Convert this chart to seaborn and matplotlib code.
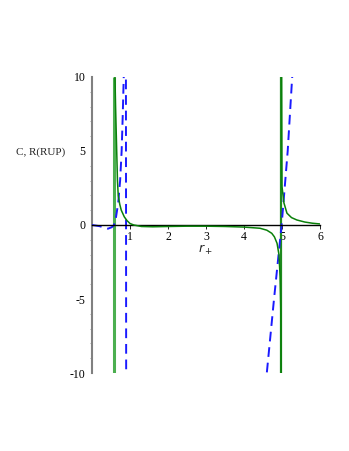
import matplotlib
matplotlib.use("Agg")
import matplotlib.pyplot as plt
import seaborn as sns
from matplotlib.ticker import MultipleLocator

# heat capacity C (green)
c_x = [0.6, 0.62, 0.65, 0.67, 0.69, 0.73, 0.77, 0.85, 0.92, 1.0, 1.1, 1.3, 1.6, 2.0,
       2.5, 3.0, 3.5, 4.0, 4.42, 4.6, 4.73, 4.8, 4.87, 4.92, 4.95, 4.97, 4.98]
c_y = [10.5, 8.0, 5.0, 3.0, 2.0, 1.4, 1.0, 0.55, 0.3, 0.1, 0.0, -0.1, -0.12, -0.1,
       -0.08, -0.08, -0.1, -0.14, -0.22, -0.35, -0.56, -0.8, -1.24, -2.0, -3.5, -6.0, -10.5]
c2_x = [4.99, 5.0, 5.05, 5.13, 5.25, 5.39, 5.6, 5.8, 6.0]
c2_y = [10.5, 2.6, 1.5, 0.8, 0.5, 0.34, 0.2, 0.12, 0.07]

# curvature R (blue dashed)
r_x = [0.0, 0.2, 0.42, 0.52, 0.58, 0.63, 0.69, 0.74, 0.78, 0.81, 0.84, 0.87, 0.892,
       0.9]
r_y = [0.0, -0.08, -0.25, -0.15, 0.0, 0.5, 1.5, 3.0, 5.0, 7.5, 10.5, 13.0, 13.0,
       -13.0]
r2_x = [4.55, 4.6, 4.79, 4.99, 5.15, 5.28]
r2_y = [-11.0, -10.0, -5.0, 0.0, 5.0, 10.5]

# vertical jumps of C
pole_left = 0.575
pole_right = 4.985

sns.set_style("white")
plt.rcParams['font.family'] = ['Liberation Serif', 'DejaVu Serif']

fig = plt.figure(figsize=(3.49, 4.51), dpi=100)
ax = fig.add_axes([92 / 349, 78 / 451, 228 / 349, 296 / 451])

ax.vlines(pole_left, -10, 10, color="#4caf50", lw=2.2, zorder=3)
ax.vlines(pole_right, -10, 10, color="#1f8a1f", lw=1.6, zorder=3)

for xs, ys in [(r_x, r_y), (r2_x, r2_y)]:
    sns.lineplot(x=xs, y=ys, ax=ax, sort=False, color="#1a1aff", lw=1.4,
                 linestyle=(0, (5, 3)), zorder=4)
for xs, ys in [(c_x, c_y), (c2_x, c2_y)]:
    sns.lineplot(x=xs, y=ys, ax=ax, sort=False, color="#0a800a", lw=1.1, zorder=5)

ax.set_xlim(0, 6)
ax.set_ylim(-10, 10)

for s in ["top", "right"]:
    ax.spines[s].set_visible(False)
ax.spines["bottom"].set_position(("data", 0))
ax.spines["bottom"].set_color("black")
ax.spines["bottom"].set_linewidth(1.0)
ax.spines["bottom"].set_zorder(4.5)
ax.spines["left"].set_position(("data", 0))
ax.spines["left"].set_color("#808080")
ax.spines["left"].set_linewidth(1.5)

ax.set_xticks([1, 2, 3, 4, 5, 6])
ax.set_yticks([-10, -5, 0, 5, 10])
ax.yaxis.set_minor_locator(MultipleLocator(1))
ax.tick_params(axis="both", which="major", direction="out", length=3, width=0.6,
               labelsize=8.5, pad=1.5, colors="black")
ax.tick_params(axis="y", which="minor", direction="out", length=1.5, width=0.5,
               colors="#808080", left=True)
ax.tick_params(axis="y", which="major", colors="#808080", labelcolor="black")
ax.tick_params(axis="x", which="major", bottom=True)
ax.set_xticklabels([str(v) for v in [1, 2, 3, 4, 5, 6]])
ax.set_yticklabels(["-10", "-5", "0", "5", "10"])

fig.text(41 / 349, 1 - 152 / 451, "C, R(RUP)", ha="center", va="center", fontsize=8)
fig.text(206 / 349, 1 - 250 / 451, "$r_+$", ha="center", va="center", fontsize=9)

fig.savefig("out.png", dpi=100)
